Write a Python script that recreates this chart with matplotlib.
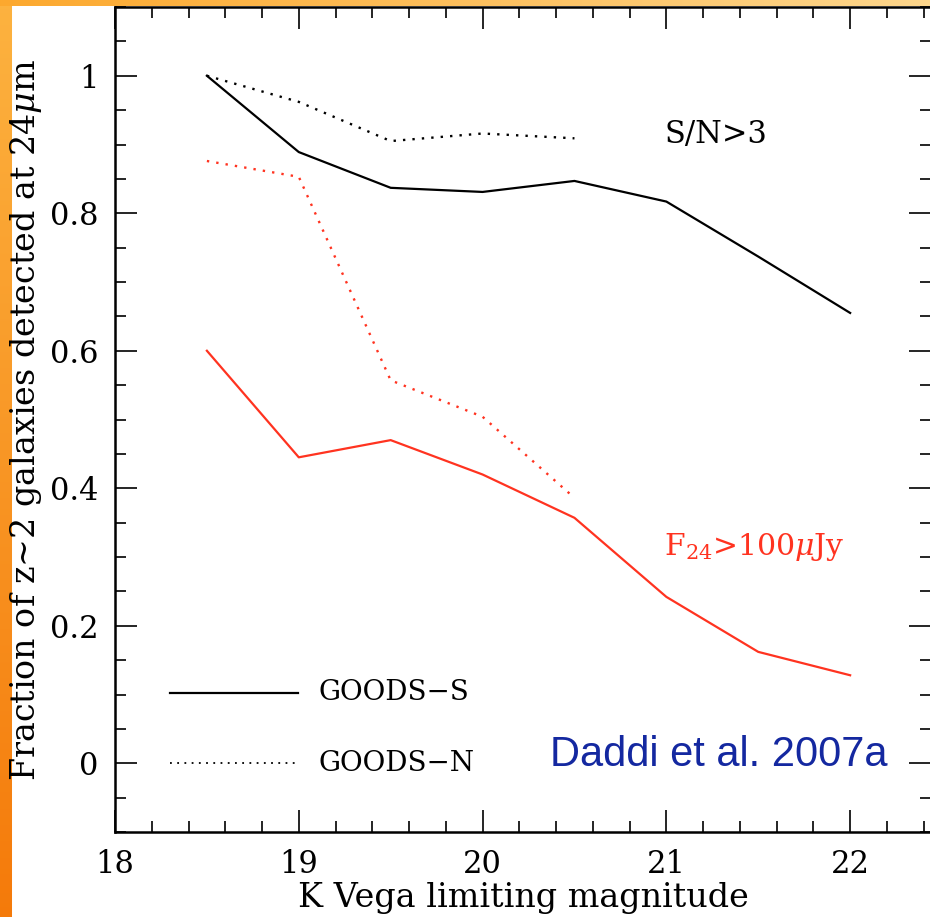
import numpy as np
import matplotlib
matplotlib.use('Agg')
import matplotlib.pyplot as plt
from matplotlib.ticker import MultipleLocator

plt.rcParams['font.family'] = 'DejaVu Serif'
plt.rcParams['mathtext.fontset'] = 'dejavuserif'

# K-band limiting magnitude bins
kmag = [18.5, 19.0, 19.5, 20.0, 20.5, 21.0, 21.5, 22.0]
kmag_n = [18.5, 19.0, 19.5, 20.0, 20.5]

# fraction detected at 24um, S/N>3
snr_goods_s = [1.0, 0.889, 0.837, 0.831, 0.847, 0.817, 0.737, 0.655]
snr_goods_n = [1.0, 0.962, 0.905, 0.916, 0.909]

# fraction detected with F24 > 100 uJy
f24_goods_s = [0.600, 0.445, 0.470, 0.420, 0.357, 0.242, 0.162, 0.128]
f24_goods_n = [0.876, 0.853, 0.557, 0.504, 0.386]

red = '#ff3320'
dots = (0, (1, 3))

fig = plt.figure(figsize=(9.30, 9.17), dpi=100)

# slide background: orange gradient strips on the left and top edges
bg = fig.add_axes([0, 0, 1, 1], zorder=-5)
bg.axis('off')
H, W = 917, 930
img = np.ones((H, W, 3))
t = np.linspace(0, 1, H)[:, None]
left_top = np.array([0.99, 0.70, 0.25])
left_bot = np.array([0.96, 0.48, 0.04])
img[:, :12, :] = (left_top * (1 - t) + left_bot * t)[:, None, :]
s = np.linspace(0, 1, W)[:, None]
top_l = np.array([0.99, 0.66, 0.18])
top_r = np.array([0.99, 0.84, 0.55])
img[:6, :, :] = (top_l * (1 - s) + top_r * s)[None, :, :]
bg.imshow(img, aspect='auto', extent=[0, 1, 0, 1], interpolation='bilinear')
bg.set_xlim(0, 1)
bg.set_ylim(0, 1)

ax = fig.add_axes([115 / 930, 85 / 917, 816 / 930, 825 / 917])
ax.set_facecolor('none')

ax.plot(kmag, snr_goods_s, color='k', lw=1.6)
ax.plot(kmag_n, snr_goods_n, color='k', lw=1.7, ls=dots)
ax.plot(kmag, f24_goods_s, color=red, lw=1.6)
ax.plot(kmag_n, f24_goods_n, color=red, lw=1.7, ls=dots)

ax.set_xlim(18, 22.44)
ax.set_ylim(-0.1, 1.1)
ax.xaxis.set_major_locator(MultipleLocator(1))
ax.xaxis.set_minor_locator(MultipleLocator(0.2))
ax.yaxis.set_major_locator(MultipleLocator(0.2))
ax.yaxis.set_minor_locator(MultipleLocator(0.05))
ax.set_yticks([0, 0.2, 0.4, 0.6, 0.8, 1.0])
ax.set_yticklabels(['0', '0.2', '0.4', '0.6', '0.8', '1'])
ax.tick_params(which='both', direction='in', top=True, right=True,
               labelsize=22, pad=12, width=1.2)
ax.tick_params(which='major', length=16)
ax.tick_params(which='minor', length=8)
for sp in ax.spines.values():
    sp.set_linewidth(1.8)

ax.set_xlabel('K Vega limiting magnitude', fontsize=24, labelpad=2)
ax.set_ylabel(r'Fraction of z~2 galaxies detected at 24$\mu$m', fontsize=24,
              labelpad=4)

# line key
ax.plot([0.0674, 0.2244], [0.1685, 0.1685], color='k', lw=1.6,
        transform=ax.transAxes)
ax.plot([0.0674, 0.2244], [0.0836, 0.0836], color='k', lw=1.3,
        ls=(0, (1, 3)), transform=ax.transAxes)
ax.text(0.249, 0.1685, 'GOODS−S', fontsize=20, va='center',
        transform=ax.transAxes)
ax.text(0.249, 0.0836, 'GOODS−N', fontsize=20, va='center',
        transform=ax.transAxes)

ax.text(0.673, 0.845, 'S/N>3', fontsize=22, va='center',
        transform=ax.transAxes)
ax.text(0.673, 0.345, r'F$_{24}$>100$\mu$Jy', fontsize=21.5, va='center',
        color=red, transform=ax.transAxes)
ax.text(0.947, 0.093, 'Daddi et al. 2007a', fontsize=30, ha='right',
        va='center', color='#1428a0', family='Liberation Sans',
        transform=ax.transAxes)

fig.savefig('out.png', dpi=100)
